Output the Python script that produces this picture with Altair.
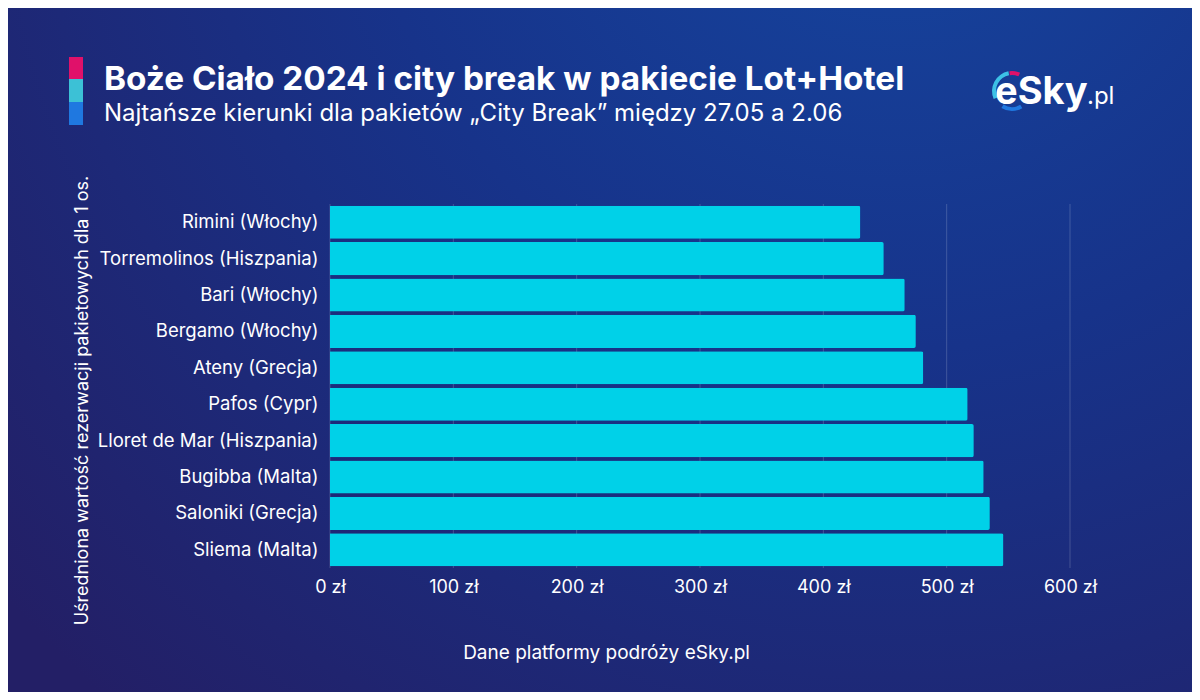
import altair as alt
import pandas as pd

# ---- data ----
cities = [
    "Rimini (Włochy)",
    "Torremolinos (Hiszpania)",
    "Bari (Włochy)",
    "Bergamo (Włochy)",
    "Ateny (Grecja)",
    "Pafos (Cypr)",
    "Lloret de Mar (Hiszpania)",
    "Bugibba (Malta)",
    "Saloniki (Grecja)",
    "Sliema (Malta)",
]
prices = [430, 449, 466, 475, 481, 517, 522, 530, 535, 546]
x_ticks = [0, 100, 200, 300, 400, 500, 600]

title_text = "Boże Ciało 2024 i city break w pakiecie Lot+Hotel"
subtitle_text = "Najtańsze kierunki dla pakietów „City Break” między 27.05 a 2.06"
y_title = "Uśredniona wartość rezerwacji pakietowych dla 1 os."
x_title = "Dane platformy podróży eSky.pl"

df = pd.DataFrame({"city": cities, "price": prices})
grid_df = pd.DataFrame({"price": x_ticks})

FONT = "Inter"
W, H = 740, 364
PAD_L, PAD_T, PAD_R, PAD_B = 322, 196, 122, 124
one = alt.InlineData(values=[{"k": 1}])

# background gradient
bg = alt.Chart(one).mark_rect(
    fill=alt.Gradient(
        gradient="radial",
        x1=0.75, y1=0.05, r1=0.0,
        x2=0.75, y2=0.05, r2=1.0,
        stops=[
            alt.GradientStop(offset=0, color="#1546a0"),
            alt.GradientStop(offset=0.45, color="#17338a"),
            alt.GradientStop(offset=1, color="#231f66"),
        ],
    )
).encode(
    x=alt.value(-PAD_L), x2=alt.value(W + PAD_R),
    y=alt.value(-PAD_T), y2=alt.value(H + PAD_B),
)

x_enc = alt.X(
    "price:Q",
    scale=alt.Scale(domain=[0, 600], nice=False),
    title=x_title,
    axis=alt.Axis(
        values=x_ticks,
        labelExpr="datum.value + ' zł'",
        grid=False, domain=False, ticks=False, zindex=2,
        labelColor="white", labelFontSize=18, labelFont=FONT,
        labelPadding=10, labelFlush=False,
        titleColor="white", titleFontSize=19, titleFont=FONT,
        titleFontWeight="normal", titleX=276, titleY=84,
        titleAlign="center", titleBaseline="middle",
    ),
)

grid = alt.Chart(grid_df).mark_rule(color="white", opacity=0.18, strokeWidth=1).encode(
    x=x_enc, y=alt.value(0), y2=alt.value(H)
)

bars = alt.Chart(df).mark_bar(color="#00d1e8", cornerRadiusEnd=2).encode(
    x=x_enc,
    y=alt.Y(
        "city:N",
        sort=cities,
        scale=alt.Scale(paddingInner=0.09, paddingOuter=0.045),
        title=y_title,
        axis=alt.Axis(
            domain=False, ticks=False, zindex=2,
            labelColor="white", labelFontSize=18.5, labelFont=FONT,
            labelPadding=12, labelLimit=400,
            titleColor="white", titleFontSize=18, titleFont=FONT,
            titleFontWeight="normal", titleAngle=270,
            titleX=-248, titleY=196, titleAlign="center", titleBaseline="middle",
        ),
    ),
    tooltip=["city", "price"],
)

# header strips
strip_colors = ["#e0116a", "#3cc1d6", "#1f78e0"]
strip_y = [(-147, -125), (-125, -102), (-102, -79)]
strips = [
    alt.Chart(one).mark_rect(color=c).encode(
        x=alt.value(-261), x2=alt.value(-247), y=alt.value(a), y2=alt.value(b)
    )
    for c, (a, b) in zip(strip_colors, strip_y)
]

title = alt.Chart(one).mark_text(
    align="left", baseline="middle", font=FONT, fontSize=33.3, fontWeight="bold", color="white"
).encode(x=alt.value(-226), y=alt.value(-124), text=alt.value(title_text))

subtitle = alt.Chart(one).mark_text(
    align="left", baseline="middle", font=FONT, fontSize=24, fontWeight="normal", color="white"
).encode(x=alt.value(-226), y=alt.value(-90), text=alt.value(subtitle_text))

logo1 = alt.Chart(one).mark_text(
    align="left", baseline="alphabetic", font=FONT, fontSize=38, fontWeight="bold", color="white"
).encode(x=alt.value(665), y=alt.value(-100), text=alt.value("eSky"))

logo2 = alt.Chart(one).mark_text(
    align="left", baseline="alphabetic", font=FONT, fontSize=24, fontWeight="normal", color="white"
).encode(x=alt.value(757), y=alt.value(-100), text=alt.value(".pl"))

arc_cyan = alt.Chart(one).mark_arc(theta=4.3, theta2=6.1, radius=20, radius2=16, color="#3cc1e6").encode(
    x=alt.value(682), y=alt.value(-113)
)
arc_pink = alt.Chart(one).mark_arc(theta=6.15, theta2=6.7, radius=20, radius2=16, color="#e0116a").encode(
    x=alt.value(682), y=alt.value(-113)
)
arc_blue = alt.Chart(one).mark_arc(theta=2.6, theta2=3.7, radius=20, radius2=16, color="#1f78e0").encode(
    x=alt.value(682), y=alt.value(-113)
)

chart = alt.layer(
    bg, grid, bars, *strips, title, subtitle, arc_cyan, arc_pink, arc_blue, logo1, logo2
).properties(
    width=W, height=H,
    padding={"left": PAD_L, "top": PAD_T, "right": PAD_R, "bottom": PAD_B},
    autosize=alt.AutoSizeParams(type="none"),
).configure(
    background="#1a2a78",
).configure_view(stroke=None)

chart.save("out.html", embed_options={"renderer": "svg", "actions": False})
